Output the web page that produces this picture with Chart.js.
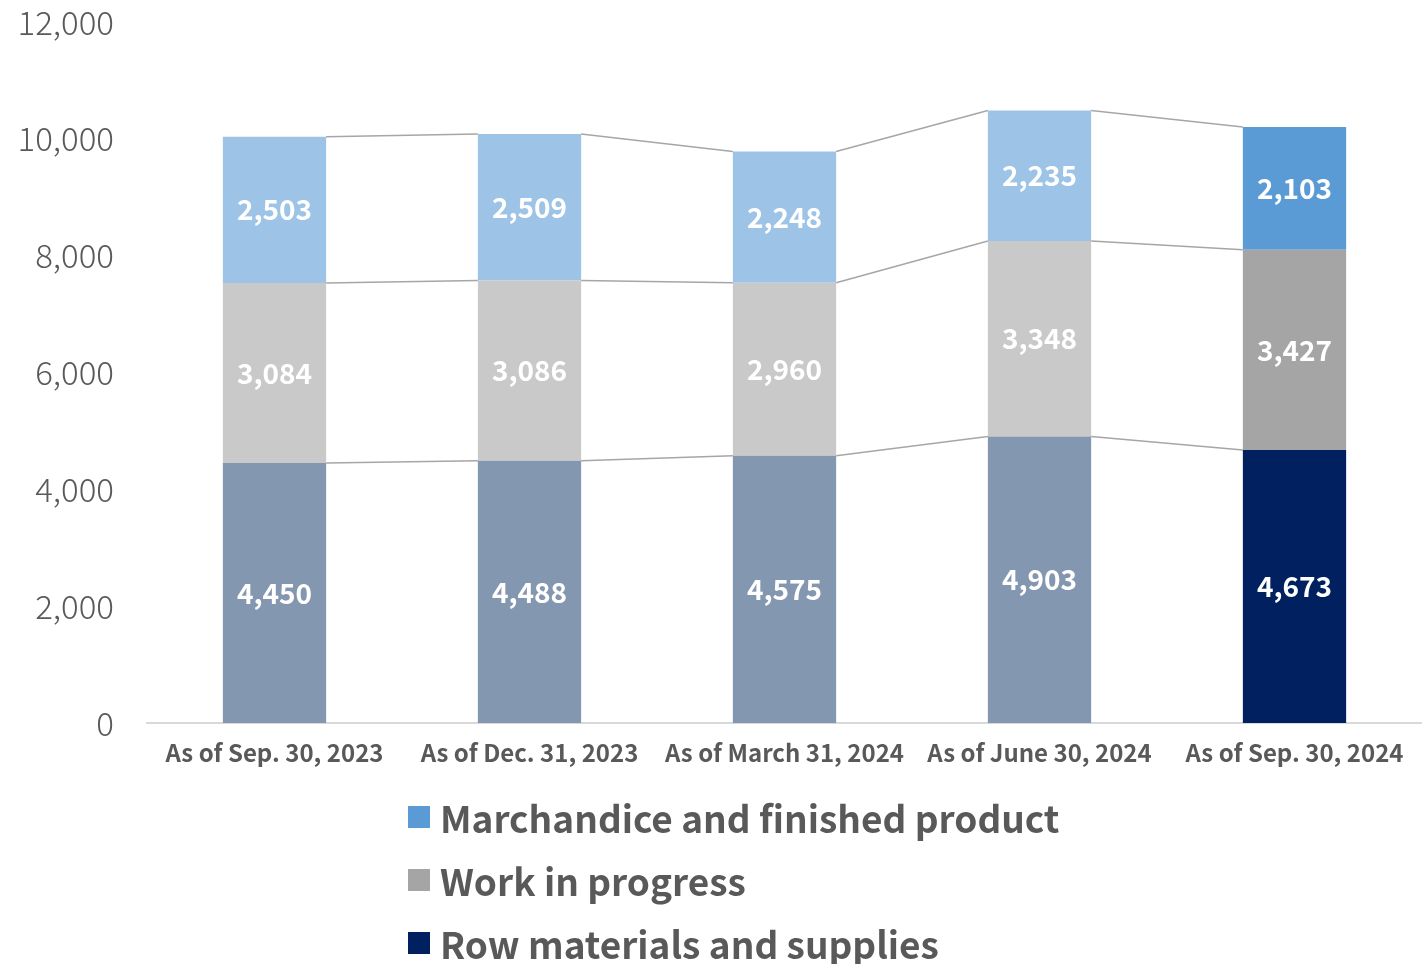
<!DOCTYPE html>
<html>
<head>
<meta charset="utf-8">
<script src="https://cdn.jsdelivr.net/npm/chart.js@4/dist/chart.umd.min.js"></script>
<style>
    html, body { margin: 0; padding: 0; background: #fff; }
    #wrap { position: relative; width: 1422px; height: 964px; }
    #legend { position: absolute; left: 408px; top: 785px; font-family: "Noto Sans CJK JP", "Noto Sans", sans-serif; font-weight: 700; font-size: 37px; color: #595959; }
    .legend-item { display: flex; align-items: center; height: 63px; white-space: nowrap; }
    .legend-box { width: 22px; height: 22px; margin-right: 10px; flex: none; }
</style>
</head>
<body>
<div id="wrap">
    <canvas id="inventory-chart" width="1422" height="964"></canvas>
    <div id="legend"></div>
</div>
<script>
// Chart data
const categories = ['As of Sep. 30, 2023', 'As of Dec. 31, 2023', 'As of March 31, 2024', 'As of June 30, 2024', 'As of Sep. 30, 2024'];
const rawMaterials = [4450, 4488, 4575, 4903, 4673];
const workInProgress = [3084, 3086, 2960, 3348, 3427];
const merchandise = [2503, 2509, 2248, 2235, 2103];
const yTicks = [0, 2000, 4000, 6000, 8000, 10000, 12000];

const FONT = '"Noto Sans CJK JP", "Noto Sans", sans-serif';
const TEXT_GREY = '#595959';

// past periods are muted, latest period uses the strong colors
function periodColors(muted, latest) {
    return categories.map((c, i) => i === categories.length - 1 ? latest : muted);
}

const seriesList = [
    { label: 'Row materials and supplies', data: rawMaterials, muted: '#8497B0', latest: '#002060' },
    { label: 'Work in progress', data: workInProgress, muted: '#C9C9C9', latest: '#A5A5A5' },
    { label: 'Marchandice and finished product', data: merchandise, muted: '#9DC3E6', latest: '#5B9BD5' }
];

// Connector lines between stacked segments
const connectorPlugin = {
    id: 'connectors',
    afterDatasetsDraw(chart) {
        const ctx = chart.ctx;
        const yScale = chart.scales.y;
        ctx.save();
        ctx.strokeStyle = '#A6A6A6';
        ctx.lineWidth = 1.5;
        let totals = categories.map(() => 0);
        seriesList.forEach((s, di) => {
            totals = totals.map((t, i) => t + s.data[i]);
            const bars = chart.getDatasetMeta(di).data;
            for (let i = 0; i < bars.length - 1; i++) {
                const a = bars[i];
                const b = bars[i + 1];
                ctx.beginPath();
                ctx.moveTo(a.x + a.width / 2, yScale.getPixelForValue(totals[i]));
                ctx.lineTo(b.x - b.width / 2, yScale.getPixelForValue(totals[i + 1]));
                ctx.stroke();
            }
        });
        ctx.restore();
    }
};

// White value labels in the middle of each segment
const valueLabelPlugin = {
    id: 'valueLabels',
    afterDatasetsDraw(chart) {
        const ctx = chart.ctx;
        ctx.save();
        ctx.fillStyle = '#FFFFFF';
        ctx.font = '600 28px ' + FONT;
        ctx.textAlign = 'center';
        ctx.textBaseline = 'middle';
        chart.data.datasets.forEach((ds, di) => {
            chart.getDatasetMeta(di).data.forEach((bar, i) => {
                const mid = (bar.y + bar.base) / 2;
                ctx.fillText(ds.data[i].toLocaleString('en-US'), bar.x, mid);
            });
        });
        ctx.restore();
    }
};

document.addEventListener('DOMContentLoaded', function() {
    const chartCtx = document.getElementById('inventory-chart');

    new Chart(chartCtx, {
        type: 'bar',
        data: {
            labels: categories,
            datasets: seriesList.map(s => ({
                label: s.label,
                data: s.data,
                backgroundColor: periodColors(s.muted, s.latest),
                borderWidth: 0,
                categoryPercentage: 1.0,
                barPercentage: 0.405
            }))
        },
        options: {
            responsive: false,
            animation: false,
            layout: { padding: 0 },
            plugins: {
                legend: { display: false },
                tooltip: { enabled: false }
            },
            scales: {
                x: {
                    stacked: true,
                    grid: { display: false, drawTicks: false },
                    border: { display: true, color: '#D9D9D9', width: 2 },
                    ticks: {
                        color: TEXT_GREY,
                        font: { family: FONT, size: 24, weight: '700' },
                        padding: 15,
                        maxRotation: 0,
                        autoSkip: false
                    },
                    afterFit: function(scale) { scale.height = 241; }
                },
                y: {
                    stacked: true,
                    min: 0,
                    max: 12000,
                    afterBuildTicks: function(scale) {
                        scale.ticks = yTicks.map(v => ({ value: v }));
                    },
                    grid: { display: false, drawTicks: false },
                    border: { display: false },
                    ticks: {
                        color: TEXT_GREY,
                        font: { family: FONT, size: 33, weight: '300' },
                        padding: 33,
                        callback: function(value) { return value.toLocaleString('en-US'); }
                    },
                    afterFit: function(scale) {
                        scale.width = 147;
                        // keep the plot top where the 12,000 label sits
                        scale.paddingTop = 22;
                        scale.paddingBottom = 0;
                    }
                }
            }
        },
        plugins: [connectorPlugin, valueLabelPlugin]
    });

    // Legend, top to bottom, with latest period colors
    const legendEl = document.getElementById('legend');
    seriesList.slice().reverse().forEach(s => {
        const item = document.createElement('div');
        item.className = 'legend-item';
        const box = document.createElement('span');
        box.className = 'legend-box';
        box.style.background = s.latest;
        const text = document.createElement('span');
        text.textContent = s.label;
        item.appendChild(box);
        item.appendChild(text);
        legendEl.appendChild(item);
    });
});
</script>
</body>
</html>
